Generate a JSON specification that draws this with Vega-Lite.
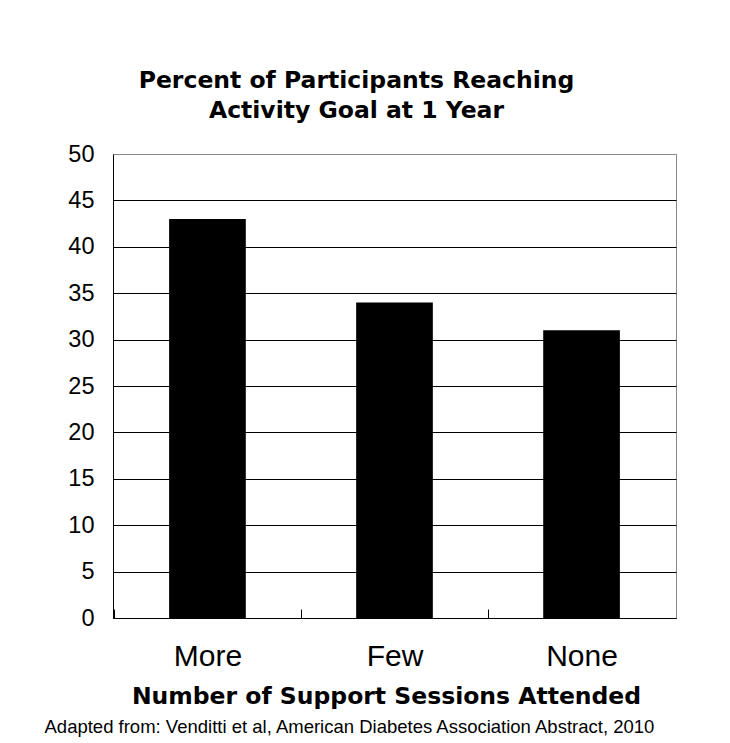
{
  "$schema": "https://vega.github.io/schema/vega-lite/v6.json",
  "width": 563,
  "height": 464,
  "padding": {"left": 44, "top": 68, "right": 54, "bottom": 5},
  "background": "white",
  "title": {
    "text": ["Percent of Participants Reaching", "Activity Goal at 1 Year"],
    "font": "DejaVu Sans",
    "fontSize": 23.5,
    "fontWeight": "bold",
    "color": "black",
    "lineHeight": 30,
    "anchor": "middle",
    "dx": -38,
    "offset": 20
  },
  "data": {
    "values": [
      {"sessions": "More", "percent": 43},
      {"sessions": "Few", "percent": 34},
      {"sessions": "None", "percent": 31}
    ]
  },
  "mark": {"type": "bar", "color": "black"},
  "encoding": {
    "x": {
      "field": "sessions",
      "type": "nominal",
      "sort": ["More", "Few", "None"],
      "scale": {"paddingInner": 0.59, "paddingOuter": 0.3},
      "axis": {
        "title": "Number of Support Sessions Attended",
        "titleFont": "DejaVu Sans",
        "titleFontSize": 23.5,
        "titleFontWeight": "bold",
        "titleColor": "black",
        "titleX": 273,
        "titleY": 85,
        "titleBaseline": "alphabetic",
        "labelAngle": 0,
        "labelFont": "Liberation Sans",
        "labelFontSize": 30,
        "labelColor": "black",
        "labelPadding": 32,
        "tickOffset": -93.8,
        "labelOffset": 93.8,
        "tickSize": -9,
        "tickColor": "black",
        "domainColor": "black",
        "grid": false
      }
    },
    "y": {
      "field": "percent",
      "type": "quantitative",
      "scale": {"domain": [0, 50]},
      "axis": {
        "values": [0, 5, 10, 15, 20, 25, 30, 35, 40, 45, 50],
        "title": "Adapted from: Venditti et al, American Diabetes Association Abstract, 2010",
        "titleAngle": 0,
        "titleX": -69,
        "titleY": 578,
        "titleAlign": "left",
        "titleBaseline": "alphabetic",
        "titleFont": "Liberation Sans",
        "titleFontSize": 18.5,
        "titleFontWeight": "normal",
        "titleColor": "black",
        "ticks": false,
        "labelPadding": 19,
        "labelFont": "Liberation Sans",
        "labelFontSize": 23.5,
        "labelColor": "black",
        "domainColor": "black",
        "grid": true,
        "gridColor": {"condition": {"test": "datum.value >= 50", "value": "#888888"}, "value": "black"}
      }
    }
  },
  "config": {"view": {"stroke": "#888888"}}
}
